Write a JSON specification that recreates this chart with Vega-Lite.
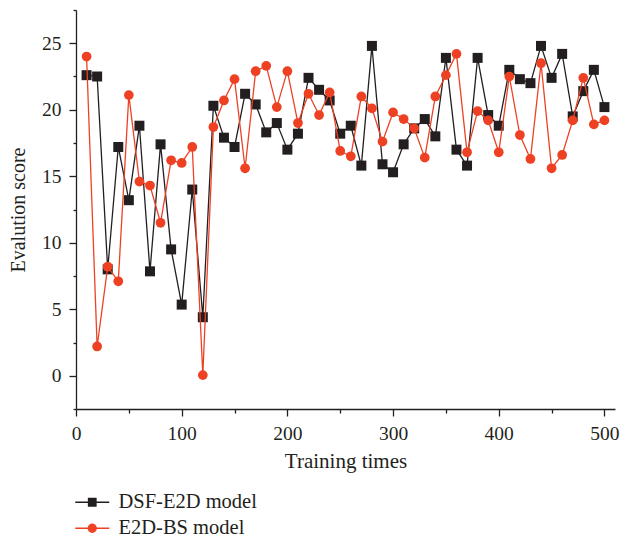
{
  "$schema": "https://vega.github.io/schema/vega-lite/v6.json",
  "width": 539,
  "height": 399,
  "autosize": {"type": "none"},
  "padding": {"left": 76, "top": 10, "right": 6, "bottom": 130},
  "background": "white",
  "config": {
    "view": {"stroke": null},
    "font": "Liberation Serif",
    "axis": {
      "domainColor": "#231f20",
      "domainWidth": 1.3,
      "tickColor": "#231f20",
      "tickWidth": 1.3,
      "labelFont": "Liberation Serif",
      "labelFontSize": 19.5,
      "labelColor": "#231f20",
      "titleFont": "Liberation Serif",
      "titleFontWeight": "normal",
      "titleColor": "#231f20",
      "grid": false
    },
    "legend": {
      "labelFont": "Liberation Serif",
      "labelFontSize": 20.5,
      "labelColor": "#231f20"
    }
  },
  "data": {
    "values": [
      {"t":10,"model":"DSF-E2D model","score":22.6},
      {"t":20,"model":"DSF-E2D model","score":22.5},
      {"t":30,"model":"DSF-E2D model","score":8.0},
      {"t":40,"model":"DSF-E2D model","score":17.2},
      {"t":50,"model":"DSF-E2D model","score":13.2},
      {"t":60,"model":"DSF-E2D model","score":18.8},
      {"t":70,"model":"DSF-E2D model","score":7.85},
      {"t":80,"model":"DSF-E2D model","score":17.4},
      {"t":90,"model":"DSF-E2D model","score":9.5},
      {"t":100,"model":"DSF-E2D model","score":5.35},
      {"t":110,"model":"DSF-E2D model","score":14.0},
      {"t":120,"model":"DSF-E2D model","score":4.4},
      {"t":130,"model":"DSF-E2D model","score":20.3},
      {"t":140,"model":"DSF-E2D model","score":17.9},
      {"t":150,"model":"DSF-E2D model","score":17.2},
      {"t":160,"model":"DSF-E2D model","score":21.2},
      {"t":170,"model":"DSF-E2D model","score":20.4},
      {"t":180,"model":"DSF-E2D model","score":18.3},
      {"t":190,"model":"DSF-E2D model","score":19.0},
      {"t":200,"model":"DSF-E2D model","score":17.0},
      {"t":210,"model":"DSF-E2D model","score":18.2},
      {"t":220,"model":"DSF-E2D model","score":22.4},
      {"t":230,"model":"DSF-E2D model","score":21.5},
      {"t":240,"model":"DSF-E2D model","score":20.7},
      {"t":250,"model":"DSF-E2D model","score":18.2},
      {"t":260,"model":"DSF-E2D model","score":18.8},
      {"t":270,"model":"DSF-E2D model","score":15.8},
      {"t":280,"model":"DSF-E2D model","score":24.8},
      {"t":290,"model":"DSF-E2D model","score":15.9},
      {"t":300,"model":"DSF-E2D model","score":15.3},
      {"t":310,"model":"DSF-E2D model","score":17.4},
      {"t":320,"model":"DSF-E2D model","score":18.6},
      {"t":330,"model":"DSF-E2D model","score":19.3},
      {"t":340,"model":"DSF-E2D model","score":18.0},
      {"t":350,"model":"DSF-E2D model","score":23.9},
      {"t":360,"model":"DSF-E2D model","score":17.0},
      {"t":370,"model":"DSF-E2D model","score":15.8},
      {"t":380,"model":"DSF-E2D model","score":23.9},
      {"t":390,"model":"DSF-E2D model","score":19.6},
      {"t":400,"model":"DSF-E2D model","score":18.8},
      {"t":410,"model":"DSF-E2D model","score":23.0},
      {"t":420,"model":"DSF-E2D model","score":22.3},
      {"t":430,"model":"DSF-E2D model","score":22.0},
      {"t":440,"model":"DSF-E2D model","score":24.8},
      {"t":450,"model":"DSF-E2D model","score":22.4},
      {"t":460,"model":"DSF-E2D model","score":24.2},
      {"t":470,"model":"DSF-E2D model","score":19.5},
      {"t":480,"model":"DSF-E2D model","score":21.4},
      {"t":490,"model":"DSF-E2D model","score":23.0},
      {"t":500,"model":"DSF-E2D model","score":20.2},
      {"t":10,"model":"E2D-BS model","score":24.0},
      {"t":20,"model":"E2D-BS model","score":2.2},
      {"t":30,"model":"E2D-BS model","score":8.2},
      {"t":40,"model":"E2D-BS model","score":7.1},
      {"t":50,"model":"E2D-BS model","score":21.1},
      {"t":60,"model":"E2D-BS model","score":14.6},
      {"t":70,"model":"E2D-BS model","score":14.3},
      {"t":80,"model":"E2D-BS model","score":11.5},
      {"t":90,"model":"E2D-BS model","score":16.2},
      {"t":100,"model":"E2D-BS model","score":16.0},
      {"t":110,"model":"E2D-BS model","score":17.2},
      {"t":120,"model":"E2D-BS model","score":0.05},
      {"t":130,"model":"E2D-BS model","score":18.7},
      {"t":140,"model":"E2D-BS model","score":20.7},
      {"t":150,"model":"E2D-BS model","score":22.3},
      {"t":160,"model":"E2D-BS model","score":15.6},
      {"t":170,"model":"E2D-BS model","score":22.9},
      {"t":180,"model":"E2D-BS model","score":23.3},
      {"t":190,"model":"E2D-BS model","score":20.2},
      {"t":200,"model":"E2D-BS model","score":22.9},
      {"t":210,"model":"E2D-BS model","score":19.0},
      {"t":220,"model":"E2D-BS model","score":21.2},
      {"t":230,"model":"E2D-BS model","score":19.6},
      {"t":240,"model":"E2D-BS model","score":21.3},
      {"t":250,"model":"E2D-BS model","score":16.9},
      {"t":260,"model":"E2D-BS model","score":16.5},
      {"t":270,"model":"E2D-BS model","score":21.0},
      {"t":280,"model":"E2D-BS model","score":20.1},
      {"t":290,"model":"E2D-BS model","score":17.6},
      {"t":300,"model":"E2D-BS model","score":19.8},
      {"t":310,"model":"E2D-BS model","score":19.3},
      {"t":320,"model":"E2D-BS model","score":18.6},
      {"t":330,"model":"E2D-BS model","score":16.4},
      {"t":340,"model":"E2D-BS model","score":21.0},
      {"t":350,"model":"E2D-BS model","score":22.6},
      {"t":360,"model":"E2D-BS model","score":24.2},
      {"t":370,"model":"E2D-BS model","score":16.8},
      {"t":380,"model":"E2D-BS model","score":19.9},
      {"t":390,"model":"E2D-BS model","score":19.2},
      {"t":400,"model":"E2D-BS model","score":16.8},
      {"t":410,"model":"E2D-BS model","score":22.5},
      {"t":420,"model":"E2D-BS model","score":18.1},
      {"t":430,"model":"E2D-BS model","score":16.3},
      {"t":440,"model":"E2D-BS model","score":23.5},
      {"t":450,"model":"E2D-BS model","score":15.6},
      {"t":460,"model":"E2D-BS model","score":16.6},
      {"t":470,"model":"E2D-BS model","score":19.2},
      {"t":480,"model":"E2D-BS model","score":22.4},
      {"t":490,"model":"E2D-BS model","score":18.9},
      {"t":500,"model":"E2D-BS model","score":19.2}
    ]
  },
  "encoding": {
    "x": {
      "field": "t", "type": "quantitative",
      "scale": {"domain": [0, 510], "nice": false, "zero": false},
      "axis": {
        "title": "Training times",
        "titleFontSize": 21,
        "titlePadding": 8,
        "values": [0,50,100,150,200,250,300,350,400,450,500],
        "labelExpr": "datum.value % 100 === 0 ? datum.label : ''",
        "tickSize": {"condition": {"test": "datum.value % 100 === 0", "value": 7}, "value": 4},
        "labelPadding": 8,
        "labelFlush": false,
        "labelOverlap": false
      }
    },
    "y": {
      "field": "score", "type": "quantitative",
      "scale": {"domain": [-2.5, 27.5], "nice": false, "zero": false},
      "axis": {
        "title": "Evalution score",
        "titleFontSize": 20,
        "titlePadding": 13,
        "values": [-2.5,0,2.5,5,7.5,10,12.5,15,17.5,20,22.5,25,27.5],
        "labelExpr": "datum.value % 5 === 0 ? datum.label : ''",
        "tickSize": {"condition": {"test": "datum.value % 5 === 0", "value": 7}, "value": 3},
        "labelPadding": 8,
        "labelFlush": false,
        "labelOverlap": false
      }
    },
    "color": {
      "field": "model", "type": "nominal",
      "scale": {"domain": ["DSF-E2D model", "E2D-BS model"], "range": ["#231f20", "#ee4123"]},
      "legend": {
        "title": null,
        "orient": "none",
        "legendX": 6,
        "legendY": 482,
        "padding": 0,
        "rowPadding": 5,
        "symbolSize": 100,
        "labelOffset": 16,
        "labelFont": "Liberation Serif",
        "labelFontSize": 20.5,
        "labelColor": "#231f20",
        "encode": {
          "symbols": {
            "update": {
              "shape": {"signal": "datum.value === 'DSF-E2D model' ? 'M-3.4,0H3.4M-0.75,-0.75H0.75V0.75H-0.75Z' : 'M-3.4,0H3.4M0.8,0A0.8,0.8,0,1,1,-0.8,0A0.8,0.8,0,1,1,0.8,0Z'"},
              "fill": {"signal": "datum.value === 'DSF-E2D model' ? '#231f20' : '#ee4123'"},
              "stroke": {"signal": "datum.value === 'DSF-E2D model' ? '#231f20' : '#ee4123'"},
              "strokeWidth": {"value": 1.3},
              "opacity": {"value": 1}
            }
          }
        }
      }
    }
  },
  "layer": [
    {
      "transform": [{"filter": "datum.model === 'DSF-E2D model'"}],
      "mark": {"type": "line", "strokeWidth": 1.3},
      "encoding": {}
    },
    {
      "transform": [{"filter": "datum.model === 'DSF-E2D model'"}],
      "mark": {"type": "point", "shape": "square", "filled": true, "size": 100, "opacity": 1}
    },
    {
      "transform": [{"filter": "datum.model === 'E2D-BS model'"}],
      "mark": {"type": "line", "strokeWidth": 1.3},
      "encoding": {}
    },
    {
      "transform": [{"filter": "datum.model === 'E2D-BS model'"}],
      "mark": {"type": "point", "shape": "circle", "filled": true, "size": 95, "opacity": 1}
    }
  ]
}
